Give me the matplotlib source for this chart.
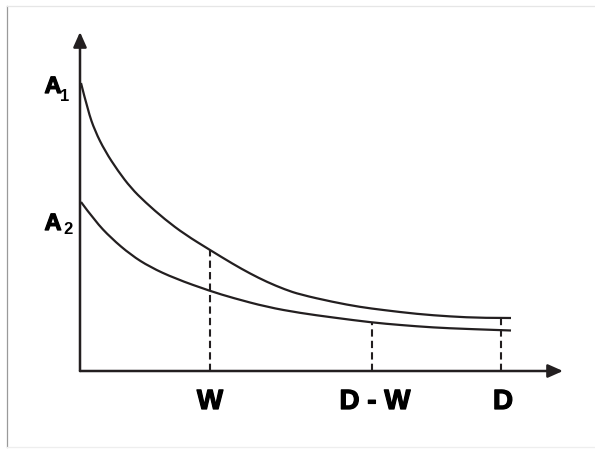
import matplotlib
matplotlib.use("Agg")
import matplotlib.pyplot as plt
import matplotlib.patheffects as pe
from matplotlib.patches import FancyArrowPatch, PathPatch
from matplotlib.path import Path
from matplotlib.lines import Line2D

# curve values (origin at the axes corner)
upper_x = [1, 8, 15, 25, 38, 51, 65, 85, 105, 130, 153, 170, 187, 205, 220, 253, 280, 303, 337, 370, 403, 431]
upper_y = [288, 260, 240, 220, 200, 183, 169, 151.5, 136.5, 121, 107, 97.5, 89, 81.5, 76.5, 69, 64, 61, 57, 54.5, 53, 53]

lower_x = [1, 15, 31, 51, 70, 95, 130, 153, 187, 220, 253, 292, 320, 353, 387, 431]
lower_y = [169, 150, 133, 116, 104, 92.5, 80, 73, 64, 58, 53.5, 48.5, 46, 43.5, 42, 40.5]

# marked positions on the x axis and heights where the dashed lines stop
mark_labels = ["W", "D - W", "D"]
mark_x = [130, 292, 421]
mark_top = [121, 48.5, 53]
mark_label_x = [130, 295, 423]

ink = "#231f20"


def smooth_path(xs, ys):
    # quadratic b-spline through the read points, drawn by matplotlib's path
    pts = list(zip(xs, ys))
    verts = [pts[0]]
    codes = [Path.MOVETO]
    for i in range(1, len(pts) - 2):
        mid = ((pts[i][0] + pts[i + 1][0]) / 2, (pts[i][1] + pts[i + 1][1]) / 2)
        verts += [pts[i], mid]
        codes += [Path.CURVE3, Path.CURVE3]
    verts += [pts[-2], pts[-1]]
    codes += [Path.CURVE3, Path.CURVE3]
    return Path(verts, codes)


fig = plt.figure(figsize=(5.95, 4.49), dpi=100)
ax = fig.add_axes([0, 0, 1, 1])
ax.set_xlim(-80, 515)
ax.set_ylim(-78, 371)
ax.axis("off")

# curves
for xs, ys in [(upper_x, upper_y), (lower_x, lower_y)]:
    ax.add_patch(PathPatch(smooth_path(xs, ys), facecolor="none", edgecolor=ink, lw=1.6))

# dashed drop lines
for x, top in zip(mark_x, mark_top):
    ax.plot([x, x], [0, top], color=ink, lw=1.5, linestyle=(0, (3.5, 2.0)))

# axes with arrows
for end in [(0, 339), (483, 0)]:
    arr = FancyArrowPatch((0, 0), end, arrowstyle="-|>,head_length=9,head_width=4",
                          mutation_scale=1, lw=1.8, color=ink, shrinkA=0, shrinkB=0)
    ax.add_patch(arr)

heavy = [pe.withStroke(linewidth=0.9, foreground="black")]
font = ["Liberation Sans", "DejaVu Sans"]

# x labels
for lab, x in zip(mark_labels, mark_label_x):
    ax.text(x, -38, lab, fontsize=20, fontweight="bold", family=font,
            ha="center", va="baseline", color="black", path_effects=heavy)

# y labels
ax.text(-27, 278, "A", fontsize=17, fontweight="bold", family=font,
        ha="center", va="baseline", color="black", path_effects=heavy)
ax.text(-15, 270, "1", fontsize=12, fontweight="bold", family=font,
        ha="center", va="baseline", color="black")
ax.text(-27, 141, "A", fontsize=17, fontweight="bold", family=font,
        ha="center", va="baseline", color="black", path_effects=heavy)
ax.text(-12, 137, "2", fontsize=12, fontweight="bold", family=font,
        ha="center", va="baseline", color="black")

# faint frame of the scanned page
fig.add_artist(Line2D([7 / 595, 7 / 595], [1 - 6 / 449, 1 - 447 / 449], color="#9a9a9a", lw=0.9))
fig.add_artist(Line2D([7 / 595, 1], [1 - 6 / 449, 1 - 6 / 449], color="#e6e6e6", lw=0.9))
fig.add_artist(Line2D([7 / 595, 1], [1 - 447 / 449, 1 - 447 / 449], color="#eeeeee", lw=0.9))

fig.savefig("out.png", dpi=100)
